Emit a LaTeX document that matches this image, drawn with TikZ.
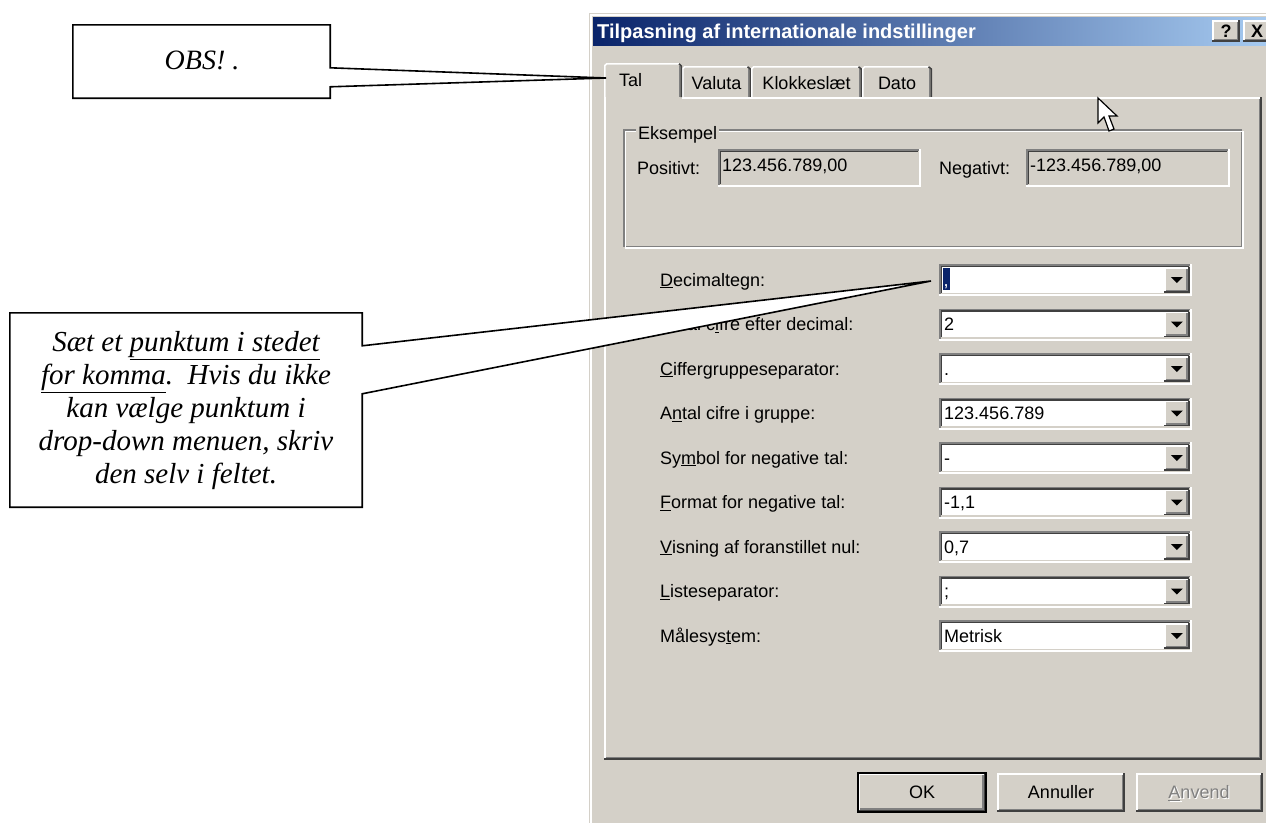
\documentclass[tikz,border=0pt]{standalone}
\usepackage{fontspec}
\setmainfont{Liberation Serif}
\newfontfamily\ui{Liberation Sans}
\usetikzlibrary{calc}
\definecolor{winbg}{HTML}{D4D0C8}
\definecolor{wingray}{HTML}{808080}
\definecolor{windark}{HTML}{404040}
\definecolor{tbdark}{HTML}{0A246A}
\definecolor{tblight}{HTML}{A6CAF0}
\definecolor{selblue}{HTML}{0A246A}
\newcommand\raisedbtn[4]{%
  \fill[winbg] (#1,#2) rectangle (#3,#4);
  \draw[white,line width=1.6pt] (#1+0.8,#4-1.6) -- (#1+0.8,#2+0.8) -- (#3-1.6,#2+0.8);
  \draw[windark,line width=1.6pt] (#1,#4-0.8) -- (#3-0.8,#4-0.8) -- (#3-0.8,#2);
  \draw[wingray,line width=1.6pt] (#1+1.6,#4-2.4) -- (#3-2.4,#4-2.4) -- (#3-2.4,#2+1.6);
}
\newcommand\sunkbox[5]{%
  \fill[#5] (#1,#2) rectangle (#3,#4);
  \draw[wingray,line width=1.6pt] (#1+0.8,#4) -- (#1+0.8,#2+0.8) -- (#3,#2+0.8);
  \draw[windark,line width=1.6pt] (#1+2.4,#4-1.6) -- (#1+2.4,#2+2.4) -- (#3-1.6,#2+2.4);
  \draw[white,line width=1.6pt] (#1,#4-0.8) -- (#3-0.8,#4-0.8) -- (#3-0.8,#2);
  \draw[winbg,line width=1.6pt] (#1+1.6,#4-2.4) -- (#3-2.4,#4-2.4) -- (#3-2.4,#2+1.6);
}
\begin{document}
\begin{tikzpicture}[x=1pt,y=-1pt,
  ui/.style={font=\ui\fontsize{18}{21}\selectfont, inner sep=0pt, text=black},
  callout/.style={draw=black, line width=1.6pt, fill=white, line join=miter},
  notetext/.style={font=\itshape\fontsize{29}{33}\selectfont, align=center, inner sep=0pt}]
\useasboundingbox (0,0) rectangle (1266,822);
\fill[white] (0,0) rectangle (1266,822);
\clip (0,0) rectangle (1266,822);

% dialog frame
\fill[winbg] (589,13) rectangle (1280,830);
\draw[white,line width=1.6pt] (590.8,830) -- (590.8,14.8) -- (1280,14.8);
% title bar
\shade[left color=tbdark,right color=tblight] (593,17) rectangle (1266,45);
\node[font=\ui\bfseries\fontsize{20}{22}\selectfont, text=white, anchor=base west, inner sep=0pt] (title) at (597,38.5) {Tilpasning af internationale indstillinger};
\raisedbtn{1212}{20}{1240}{42}
\raisedbtn{1243}{20}{1271}{42}
\node[font=\ui\bfseries\fontsize{18}{20}\selectfont, inner sep=0pt] (help) at (1226,31) {?};
\node[font=\ui\bfseries\fontsize{18}{20}\selectfont, inner sep=0pt] (close) at (1257,31) {X};

% unselected tabs
\foreach \xa/\xb/\nm in {682/751/Valuta, 751/862/Klokkeslæt, 862/932/Dato}{
  \draw[white,line width=1.6pt] (\xa+0.8,97) -- (\xa+0.8,68.5) -- (\xa+2.8,66.8) -- (\xb-3.5,66.8);
  \draw[windark,line width=1.6pt] (\xb-3.5,66.8) -- (\xb-0.8,69) -- (\xb-0.8,97);
  \draw[wingray,line width=1.6pt] (\xb-2.4,69) -- (\xb-2.4,97);
  \node[ui,anchor=base] (tab\nm) at ({(\xa+\xb)/2},89) {\nm};
}
% tab panel
\draw[white,line width=1.6pt] (604.8,760) -- (604.8,97.8) -- (1262,97.8);
\draw[windark,line width=1.6pt] (604,759.2) -- (1261.2,759.2) -- (1261.2,97);
\draw[wingray,line width=1.6pt] (605.6,757.6) -- (1259.6,757.6) -- (1259.6,98.6);
% selected tab
\fill[winbg] (605.6,63) rectangle (682,99.5);
\draw[white,line width=1.6pt] (604.8,99.5) -- (604.8,65.5) -- (606.8,63.8) -- (679,63.8);
\draw[windark,line width=1.6pt] (679,63.8) -- (681.2,66) -- (681.2,97);
\draw[wingray,line width=1.6pt] (679.6,66) -- (679.6,97);
\node[ui,anchor=base] (tabTal) at (630.5,86) {Tal};

% group box
\draw[wingray,line width=1.6pt] (624,130) rectangle (1241.5,246.5);
\draw[white,line width=1.6pt] (625.6,131.6) rectangle (1243.1,248.1);
\node[ui,anchor=base west,fill=winbg,inner xsep=2pt,inner ysep=1pt] (grp) at (636,139.5) {Eksempel};
\node[ui,anchor=base west] (poslab) at (637,174.5) {Positivt:};
\sunkbox{718}{149}{921}{187}{winbg}
\node[ui,anchor=base west] (posval) at (722,171.5) {123.456.789,00};
\node[ui,anchor=base west] (neglab) at (939,174.5) {Negativt:};
\sunkbox{1026}{149}{1230}{187}{winbg}
\node[ui,anchor=base west] (negval) at (1030,171.5) {-123.456.789,00};

% combo rows
\foreach \lab/\val [count=\i from 0] in {%
  {\underline{D}ecimaltegn:}/{},
  {Antal c\underline{i}fre efter decimal:}/{2},
  {\underline{C}iffergruppeseparator:}/{.},
  {A\underline{n}tal cifre i gruppe:}/{123.456.789},
  {Sy\underline{m}bol for negative tal:}/{-},
  {\underline{F}ormat for negative tal:}/{-1,1},
  {\underline{V}isning af foranstillet nul:}/{0,7},
  {\underline{L}isteseparator:}/{;},
  {Målesys\underline{t}em:}/{Metrisk}}{
  \pgfmathsetmacro\t{264+44.5*\i}
  \pgfmathsetmacro\b{\t+32}
  \pgfmathsetmacro\bl{\t+22}
  \node[ui,anchor=base west] (lab\i) at (660,\bl) {\lab};
  \sunkbox{939}{\t}{1192}{\b}{white}
  \raisedbtn{1164}{\t+3.2}{1189.6}{\b-3.2}
  \fill (1170.8,\t+13) -- (1182.8,\t+13) -- (1176.8,\t+19) -- cycle;
  \node[ui,anchor=base west] (val\i) at (944,\bl) {\val};
}
\fill[selblue] (943,268) rectangle (949.5,290);
\node[ui,anchor=base,text=white] (selcomma) at (946,286) {,};

% buttons
\fill[black] (857,772) rectangle (987,813);
\raisedbtn{858.6}{773.6}{985.4}{811.4}
\node[ui,anchor=base] (ok) at (922,798.5) {OK};
\raisedbtn{997}{773}{1125}{812}
\node[ui,anchor=base] (cancel) at (1061,798.5) {Annuller};
\raisedbtn{1136}{773}{1263}{812}
\node[ui,anchor=base,text=white] (applysh) at (1200.2,799.7) {\underline{A}nvend};
\node[ui,anchor=base,text=wingray] (apply) at (1199,798.5) {\underline{A}nvend};

% mouse cursor
\coordinate (cur) at (1098,98);
\draw[fill=white,line width=1.2pt,line join=miter] (cur) -- ++(0,25) -- ++(6,-6) -- ++(5,14) -- ++(5,-2) -- ++(-5,-13) -- ++(8,0) -- cycle;

% callout 1
\coordinate (tip1) at (606,78);
\node[minimum width=257pt,minimum height=73pt,inner sep=0pt] (obs) at (201.5,61.5) {};
\draw[callout] (obs.north west) -- (obs.north east) -- ($(obs.north east)+(0,43)$) -- (tip1) -- ($(obs.north east)+(0,62)$) -- (obs.south east) -- (obs.south west) -- cycle;
\node[notetext,font=\itshape\fontsize{28}{32}\selectfont] (obstext) at (202,60) {OBS! .};

% callout 2
\coordinate (tip2) at (931,281);
\node[minimum width=352pt,minimum height=194pt,inner sep=0pt] (note) at (186,410) {};
\draw[callout] (note.north west) -- (note.north east) -- ($(note.north east)+(0,33)$) -- (tip2) -- ($(note.north east)+(0,81)$) -- (note.south east) -- (note.south west) -- cycle;
\node[notetext] (notebody) at (186,411) {Sæt et \underline{punktum i stedet}\\ \underline{for komma}.\ \ Hvis du ikke\\ kan vælge punktum i\\ drop-down menuen, skriv\\ den selv i feltet.};
\end{tikzpicture}
\end{document}
